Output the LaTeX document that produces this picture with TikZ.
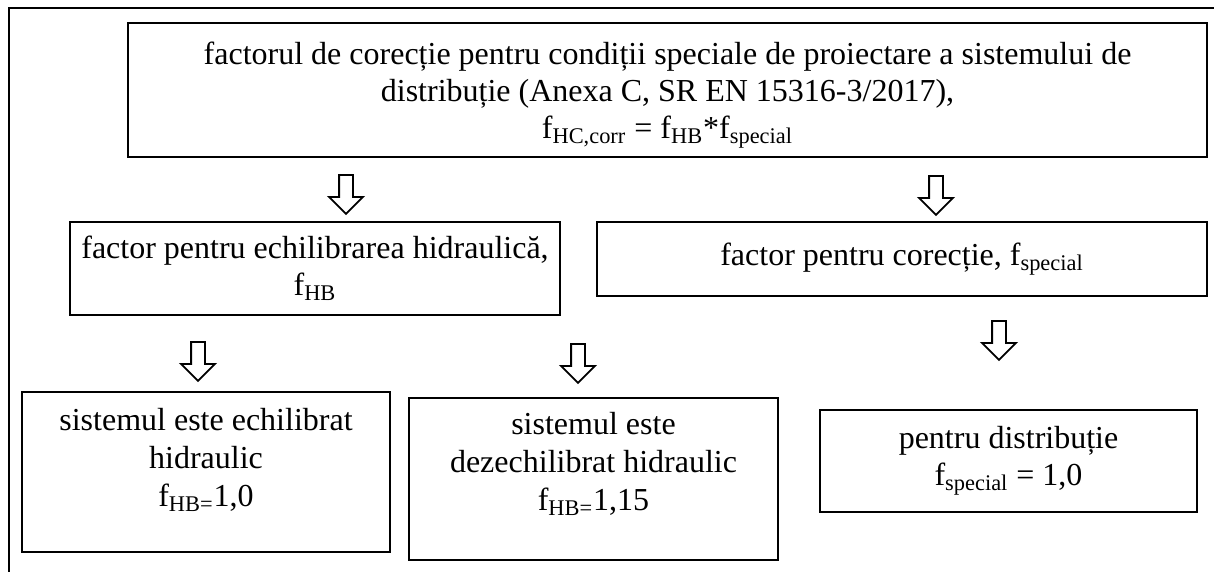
\documentclass[tikz,border=0pt]{standalone}
\usepackage{fontspec}
\setmainfont{Liberation Serif}
\usetikzlibrary{positioning,shapes.arrows}
\newcommand{\idx}[1]{\textsubscript{#1}}

\begin{document}
\begin{tikzpicture}[x=0.5pt, y=-0.5pt,
  box/.style={draw, line width=1pt, align=center, inner sep=0pt, font=\fontsize{16}{18.5}\selectfont},
  txt/.style={align=center, inner sep=0pt, font=\fontsize{16}{19}\selectfont},
  down/.style={draw, line width=0.9pt, single arrow, rotate=-90, minimum height=19.5pt, inner sep=3pt,
    single arrow head extend=5pt, single arrow tip angle=90},
]
  \useasboundingbox (0,0) rectangle (1214,572);
  % outer frame
  \draw[line width=1pt] (9,572) -- (9,8) -- (1214,8);

  \node[box, minimum width=539.5pt, minimum height=67pt] (top) at (667.5,90) {};
  \node[txt, font=\fontsize{16}{18.5}\selectfont] (toptxt) at ([yshift=-2.5pt]top.center)
    {factorul de corecție pentru condiții speciale de proiectare a sistemului de\\
     distribuție (Anexa C, SR EN 15316-3/2017),\\
     f\idx{HC,corr} = f\idx{HB}*f\idx{special}};

  \node[down] (a1) at (346,191) {};
  \node[down] (a2) at (936,192) {};

  \node[box, minimum width=245pt, minimum height=46.5pt] (hb) at (315,268.5)
    {factor pentru echilibrarea hidraulică,\\ f\idx{HB}};
  \node[box, minimum width=305pt, minimum height=37pt] (spec) at (902,259)
    {factor pentru corecție, f\idx{special}};

  \node[down] (a3) at (198,358) {};
  \node[down] (a4) at (578,360) {};
  \node[down] (a5) at (999,337) {};

  % lower boxes
  \node[box, minimum width=184pt, minimum height=80pt] (eq) at (206,472) {};
  \node[txt] (eqtxt) at ([yshift=6pt]eq.center)
    {sistemul este echilibrat\\ hidraulic\\ f\idx{HB=}1,0};
  \node[box, minimum width=184.5pt, minimum height=81pt] (dez) at (593.5,479) {};
  \node[txt] (deztxt) at ([yshift=7.5pt]dez.center)
    {sistemul este\\ dezechilibrat hidraulic\\ f\idx{HB=}1,15};
  \node[box, minimum width=188.5pt, minimum height=51pt] (dist) at (1008.5,461)
    {pentru distribuție\\ f\idx{special} = 1,0};
\end{tikzpicture}
\end{document}
